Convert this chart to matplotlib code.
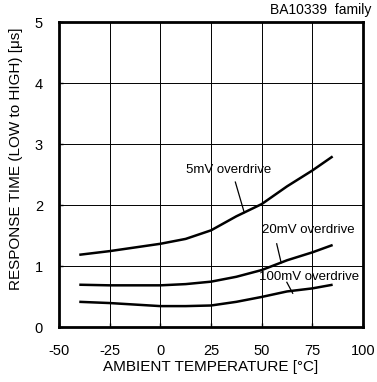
import matplotlib
matplotlib.use("Agg")
import matplotlib.pyplot as plt

plt.rcParams['font.family'] = ['Liberation Sans', 'DejaVu Sans']
plt.rcParams['axes.unicode_minus'] = False

temp = [-40, -25, 0, 12.5, 25, 37.5, 50, 62.5, 75, 85]
mv5 = [1.19, 1.25, 1.37, 1.45, 1.59, 1.82, 2.02, 2.31, 2.57, 2.80]
mv20 = [0.70, 0.69, 0.69, 0.71, 0.75, 0.83, 0.94, 1.10, 1.23, 1.35]
mv100 = [0.42, 0.40, 0.35, 0.35, 0.36, 0.42, 0.50, 0.59, 0.64, 0.70]

xticks = [-50, -25, 0, 25, 50, 75, 100]
yticks = [0, 1, 2, 3, 4, 5]

labels = ["5mV overdrive", "20mV overdrive", "100mV overdrive"]
label_pos = [(33.5, 2.58), (72.8, 1.59), (73.4, 0.82)]
leaders = [((37.0, 2.38), (41.4, 1.88)),
           ((57.4, 1.37), (59.6, 1.06)),
           ((62.4, 0.74), (65.3, 0.56))]

fig = plt.figure(figsize=(3.77, 3.82), dpi=100)
ax = fig.add_axes([0.1565, 0.1427, 0.8065, 0.7997])

for s in (mv5, mv20, mv100):
    ax.plot(temp, s, color='black', lw=1.8, solid_capstyle='butt')

for lab, (x, y) in zip(labels, label_pos):
    ax.text(x, y, lab, ha='center', va='center', fontsize=9.5)
for (p1, p2) in leaders:
    ax.plot([p1[0], p2[0]], [p1[1], p2[1]], color='black', lw=0.9)

ax.set_xlim(-50, 100)
ax.set_ylim(0, 5)
ax.set_xticks(xticks)
ax.set_yticks(yticks)
ax.grid(True, color='black', lw=0.7)
for sp in ax.spines.values():
    sp.set_linewidth(2)
ax.tick_params(direction='in', length=3, width=1, labelsize=10.5)
ax.tick_params(axis='x', pad=12)
ax.tick_params(axis='y', pad=11.5)

ax.set_xlabel("AMBIENT TEMPERATURE [°C]", fontsize=11)
ax.xaxis.set_label_coords(0.5, -0.106)
ax.set_ylabel("RESPONSE TIME (LOW to HIGH) [μs]", fontsize=11)
ax.yaxis.set_label_coords(-0.117, 0.552)

fig.text(371/377, 1 - 10/382, "BA10339  family", ha='right', va='center', fontsize=10)

fig.savefig("out.png", dpi=100)
